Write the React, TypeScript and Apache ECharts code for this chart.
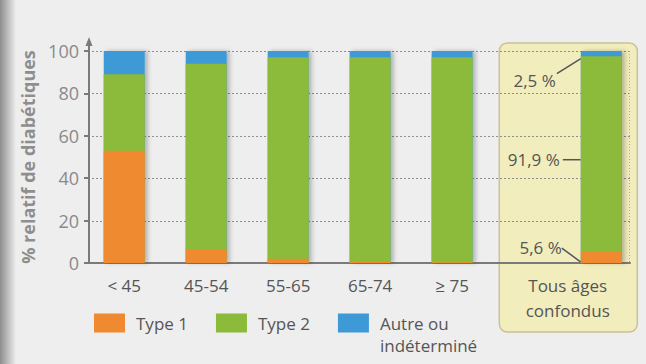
import React, { useEffect, useRef } from "react";
import * as echarts from "echarts";

const categories = ["< 45", "45-54", "55-65", "65-74", "≥ 75", "Tous âges\nconfondus"];
const seriesNames = ["Type 1", "Type 2", "Autre ou\nindéterminé"];
const type1 = [53, 6.5, 2, 0.5, 0.3, 5.6];
const type2 = [36, 87.5, 95, 96.5, 96.7, 91.9];
const other = [11, 6, 3, 3, 3, 2.5];
const yTicks = [0, 20, 40, 60, 80, 100];

const colors = ["#ef8a31", "#8cba3a", "#3e9ad7"];
const FONT = "'Open Sans', 'Noto Sans', sans-serif";

// slot of each category on the x axis; the overall bar sits a bit apart
const last = categories.length - 1;
const slots = categories.map((_, i) => (i === last ? i + 0.82 : i));
// the overall label is centred in its highlight box, left of the bar
const labelSlots = slots.map((s, i) => (i === last ? s - 0.41 : s));

const fmtPct = (v: number) => v.toFixed(1).replace(".", ",") + " %";

export default function App() {
  const ref = useRef<HTMLDivElement>(null);
  useEffect(() => {
    document.body.style.margin = "0";
    const chart = echarts.init(ref.current!, null, { renderer: "svg" });
    // cumulative tops, so that the three overlapping bars read as one stack
    const cum1 = type1.map((v) => v);
    const cum2 = type2.map((v, i) => v + type1[i]);
    const cum3 = other.map((v, i) => v + type2[i] + type1[i]);
    const tops = [cum1, cum2, cum3];
    const yMin = yTicks[0];
    const yMax = yTicks[yTicks.length - 1];
    const yInterval = yTicks[1] - yTicks[0];
    const xMin = -0.43;
    const xMax = 6.17;
    chart.setOption({
      animation: false,
      backgroundColor: "#eeeeee",
      textStyle: { fontFamily: FONT },
      grid: { left: 89, right: 16, top: 51, bottom: 101 },
      legend: {
        left: 94,
        top: 290,
        padding: 0,
        itemWidth: 31,
        itemHeight: 19,
        itemGap: 28,
        icon: "rect",
        textStyle: { fontSize: 17, lineHeight: 22, color: "#555", fontFamily: FONT, padding: [0, 0, 0, 6] },
        // multi-line names start on the line of their colour box
        formatter: (name: string) => (name.indexOf("\n") >= 0 ? "\n" + name : name),
        data: seriesNames,
      },
      xAxis: {
        type: "value",
        min: xMin,
        max: xMax,
        splitLine: { show: false },
        axisTick: { show: false },
        axisLine: { show: true, onZero: false, lineStyle: { color: "#7a7a7a", width: 2 } },
        axisLabel: {
          customValues: labelSlots,
          margin: 10,
          fontSize: 17,
          lineHeight: 25,
          color: "#555",
          fontFamily: FONT,
          formatter: (v: number) => {
            const i = labelSlots.findIndex((s) => Math.abs(s - v) < 1e-6);
            return i >= 0 ? categories[i] : "";
          },
        },
      },
      yAxis: {
        type: "value",
        min: yMin,
        max: yMax,
        interval: yInterval,
        name: "% relatif de diabétiques",
        nameLocation: "middle",
        nameGap: 52,
        nameRotate: 90,
        nameTextStyle: { fontSize: 18, fontWeight: "bold", color: "#8e8e8e", fontFamily: FONT },
        axisLine: { show: true, onZero: false, lineStyle: { color: "#7a7a7a", width: 2 } },
        axisTick: { show: true, length: 5, lineStyle: { color: "#7a7a7a", width: 2 } },
        axisLabel: { fontSize: 18, color: "#8a8a8a", margin: 10, fontFamily: FONT },
        splitLine: { show: false },
      },
      series: [2, 1, 0].map((k) => ({
        name: seriesNames[k],
        type: "bar",
        barWidth: 41,
        barGap: "-100%",
        z: 3 + (2 - k),
        itemStyle:
          k === 2
            ? { color: colors[k], shadowColor: "rgba(0,0,0,0.25)", shadowBlur: 4, shadowOffsetX: 3 }
            : { color: colors[k] },
        data: tops[k].map((v, i) => [slots[i], v]),
      })),
    });

    const px = (x: number, y: number) =>
      chart.convertToPixel({ xAxisIndex: 0, yAxisIndex: 0 }, [x, y]) as number[];
    const xl = slots[last];
    const [cx, y0] = px(xl, 0);
    const [, y100] = px(xl, yMax);
    const barLeft = cx - 20.5;
    const [axX] = px(xMin, 0);
    const [axR] = px(xMax, 0);
    const yOrange = px(xl, type1[last] / 2)[1];
    const yGreen = px(xl, type1[last] + type2[last] / 2)[1];
    const yBlue = px(xl, type1[last] + type2[last] + other[last] / 2)[1];
    const txt = { fontSize: 17, fill: "#555", fontFamily: FONT };
    const lineStyle = { stroke: "#555", lineWidth: 1.5 };

    // dotted grid lines, drawn dot by dot at the y axis' tick values
    const dot = "#8e8e8e";
    const gridLines = yTicks
      .filter((v) => v > yMin)
      .map((v) => {
        const y = Math.round(px(xl, v)[1]);
        const children: any[] = [];
        for (let x = Math.round(axX) + 3; x < axR; x += 4) {
          children.push({ type: "rect", shape: { x, y, width: 2, height: 1 }, style: { fill: dot } });
        }
        return { type: "group", z: -1, silent: true, children };
      });
    const edgeDots: any[] = [];
    for (let y = Math.round(y100); y < y0; y += 3) {
      edgeDots.push({ type: "rect", shape: { x: Math.round(axR) - 1, y, width: 1, height: 1 }, style: { fill: "#a8a8a8" } });
    }

    chart.setOption({
      graphic: [
        {
          type: "rect",
          z: -10,
          shape: { x: 0, y: 0, width: 16, height: 364 },
          style: {
            fill: new echarts.graphic.LinearGradient(0, 0, 1, 0, [
              { offset: 0, color: "#8e8e8e" },
              { offset: 1, color: "#eeeeee" },
            ]),
          },
        },
        {
          type: "rect",
          z: -5,
          shape: { x: cx - 102, y: y100 - 8, width: 138, height: y0 - y100 + 77, r: 8 },
          style: { fill: "#f2edbd", stroke: "#c9c19a", lineWidth: 1.5 },
        },
        ...gridLines,
        { type: "group", z: -1, silent: true, children: edgeDots },
        {
          type: "line",
          shape: { x1: axX, y1: y100, x2: axX, y2: y100 - 10 },
          style: { stroke: "#7a7a7a", lineWidth: 2 },
        },
        {
          type: "polygon",
          shape: { points: [[axX - 3.5, y100 - 5], [axX, y100 - 14], [axX + 3.5, y100 - 5]] },
          style: { fill: "#7a7a7a" },
        },
        {
          type: "text",
          x: barLeft - 25,
          y: yBlue + 27,
          style: { text: fmtPct(other[last]), align: "right", verticalAlign: "middle", ...txt },
        },
        {
          type: "line",
          shape: { x1: barLeft - 24, y1: yBlue + 20, x2: barLeft, y2: yBlue + 5 },
          style: lineStyle,
        },
        {
          type: "text",
          x: barLeft - 21,
          y: yGreen + 6,
          style: { text: fmtPct(type2[last]), align: "right", verticalAlign: "middle", ...txt },
        },
        {
          type: "line",
          shape: { x1: barLeft - 18, y1: yGreen + 6, x2: barLeft, y2: yGreen + 6 },
          style: lineStyle,
        },
        {
          type: "text",
          x: barLeft - 19,
          y: yOrange - 10,
          style: { text: fmtPct(type1[last]), align: "right", verticalAlign: "middle", ...txt },
        },
        {
          type: "line",
          shape: { x1: barLeft - 19, y1: yOrange - 9, x2: barLeft, y2: yOrange + 5 },
          style: lineStyle,
        },
      ],
    });
    return () => chart.dispose();
  }, []);
  return <div ref={ref} style={{ width: 646, height: 364 }} />;
}
